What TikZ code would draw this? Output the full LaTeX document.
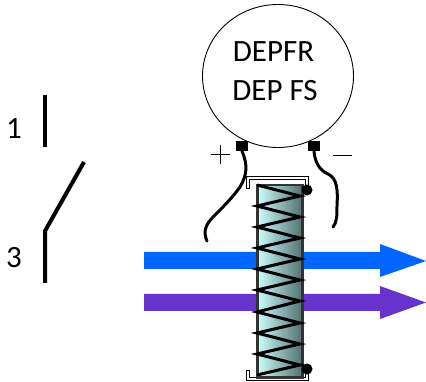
\documentclass[tikz,border=0pt]{standalone}
\usepackage{fontspec}
\setmainfont{Carlito}
\usetikzlibrary{calc,shapes.geometric}
\definecolor{bluearrow}{HTML}{0066FF}
\definecolor{purparrow}{HTML}{6633CC}
\definecolor{coilleft}{HTML}{CCFFFF}
\definecolor{coilright}{HTML}{527070}
\begin{document}
\begin{tikzpicture}[x=1pt,y=-1pt,
  lbl/.style={inner sep=0pt,anchor=base,font=\fontsize{31}{36}\selectfont},
  term/.style={draw=none,fill=black,minimum width=12pt,minimum height=10pt,inner sep=0pt},
  dot/.style={circle,fill=black,minimum size=11pt,inner sep=0pt},
  wire/.style={line width=3pt,line cap=round},
  sw/.style={line width=4pt},
  bracket/.style={fill=white,draw=black,line width=1pt},
  zig/.style={line width=3pt,line join=miter},
  signs/.style={line width=0.9pt}]
\useasboundingbox (0,0) rectangle (426,382);
\clip (0,0) rectangle (426,382);
% switch
\coordinate (s1a) at (45,95); \coordinate (s1b) at (45,147);
\coordinate (s2a) at (84,162); \coordinate (s2b) at (45,231); \coordinate (s2c) at (45,283);
\draw[sw] (s1a) -- (s1b);
\draw[sw,line join=round] (s2a) -- (s2b) -- (s2c);
\node[lbl] (n1) at (14,139) {1};
\node[lbl] (n3) at (14,268) {3};
% flux arrows
\fill[bluearrow] (144,252) -- (380,252) -- (380,244) -- (426,261) -- (380,277) -- (380,269) -- (144,269) -- cycle;
\fill[purparrow] (144,294) -- (380,294) -- (380,286) -- (426,302.5) -- (380,319) -- (380,311) -- (144,311) -- cycle;
% circle
\node[ellipse,draw=black,line width=0.9pt,minimum width=151pt,minimum height=143pt,inner sep=0pt,fill=white] (relay) at (278,76) {};
\node[lbl] (t1) at (273.5,62) {DEPFR};
\node[lbl] (t2) at (275,101) {DEP FS};
% brackets
\draw[bracket] (246.5,189) -- (246.5,176.5) -- (308.5,176.5) -- (308.5,188) -- (305.5,188) -- (305.5,180) -- (249.5,180) -- (249.5,189) -- cycle;
\draw[bracket] (246.5,370) -- (249.5,370) -- (249.5,377) -- (305.5,377) -- (305.5,372) -- (308.5,372) -- (308.5,380.5) -- (246.5,380.5) -- cycle;
% coil
\node[draw=black!80,line width=2.5pt,left color=coilleft,right color=coilright,
  minimum width=45pt,minimum height=192pt,inner sep=0pt,anchor=north west] (coil) at (256,184) {};
\draw[zig] (257,185) -- (300,196) -- (257,206) -- (300,217) -- (257,227) -- (300,238) -- (257,248) -- (300,259) -- (257,269) -- (300,280) -- (257,290) -- (300,301) -- (257,312) -- (300,323) -- (257,333) -- (300,344) -- (257,354) -- (300,365) -- (257,375);
\node[dot] (d1) at (307,190) {};
\node[dot] (d2) at (307,369) {};
% terminals
\node[term] (ta) at (242,146) {};
\node[term] (tb) at (314,146) {};
\coordinate (wa) at (207,241);
\coordinate (wb) at (333,227);
\draw[wire] (ta.south) .. controls (248,165) and (247,175) .. (240,187) .. controls (232,198) and (224,206) .. (214,216) .. controls (205,225) and (203,232) .. (wa);
\draw[wire] (tb.south) .. controls (315,162) and (319,170) .. (328,174) .. controls (337,178) and (338,190) .. (337,205) .. controls (337,216) and (337,222) .. (wb);
% signs
\coordinate (pc) at (220,154.5);
\draw[signs] ($(pc)+(-9.5,0)$) -- ($(pc)+(9.5,0)$);
\draw[signs] ($(pc)+(0,-9.5)$) -- ($(pc)+(0,9.5)$);
\draw[signs] (333,155) -- (352,155);
\end{tikzpicture}
\end{document}
